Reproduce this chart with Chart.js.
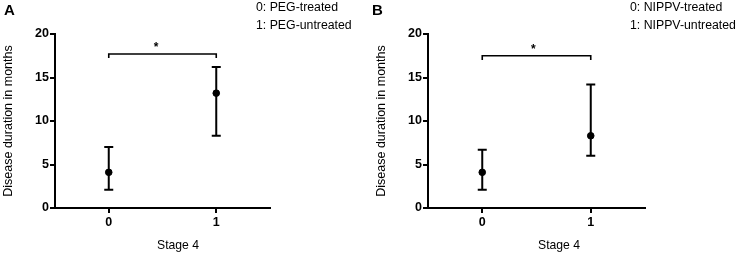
<!DOCTYPE html>
<html>
<head>
<meta charset="utf-8">
<script src="https://cdn.jsdelivr.net/npm/chart.js@4"></script>
<style>
  html, body { margin: 0; padding: 0; background: #fff; }
  body { width: 737px; height: 254px; position: relative; overflow: hidden; font-family: "Liberation Sans", Arial, sans-serif; color: #000; }
  .cv { position: absolute; top: 0; }
  .txt { position: absolute; white-space: nowrap; line-height: 1; }
  .letter { font-weight: bold; font-size: 15px; }
  .leg { font-size: 12.3px; }
  .xt { font-size: 12.2px; }
</style>
</head>
<body>
<div class="cv" style="left:0;width:368px;height:254px"><canvas id="cA"></canvas></div>
<div class="cv" style="left:368px;width:369px;height:254px"><canvas id="cB"></canvas></div>
<div class="txt letter" style="left:4px;top:2px">A</div>
<div class="txt letter" style="left:372px;top:2px">B</div>
<div class="txt leg" style="left:256px;top:1px">0: PEG-treated</div>
<div class="txt leg" style="left:256px;top:19px">1: PEG-untreated</div>
<div class="txt leg" style="left:630px;top:1px">0: NIPPV-treated</div>
<div class="txt leg" style="left:630px;top:19px">1: NIPPV-untreated</div>
<div class="txt xt" style="left:157px;top:239px">Stage 4</div>
<div class="txt xt" style="left:538px;top:239px">Stage 4</div>
<script>
// ---- Data ----
const categories = [0, 1];
const categoryLabels = ['0', '1'];
const yTicks = [0, 5, 10, 15, 20];

const meanA = [4.1, 13.2];
const lowA  = [2.1, 8.3];
const highA = [7.0, 16.2];

const meanB = [4.1, 8.3];
const lowB  = [2.1, 6.0];
const highB = [6.7, 14.2];

const bracketA = [17.25, 17.7];   // [end tip, bar]
const bracketB = [17.0, 17.5];
const starA = [0.44, 18.85];
const starB = [0.47, 18.65];

const yTitle = 'Disease duration in months';

// ---- Plugin: error bars and significance star ----
const errPlugin = {
  id: 'errbars',
  afterDatasetsDraw(chart, args, opts) {
    const {ctx, scales: {x, y}} = chart;
    ctx.save();
    ctx.strokeStyle = '#000';
    ctx.lineWidth = 2;
    opts.low.forEach((lo, i) => {
      const px = x.getPixelForValue(categories[i]);
      const pLo = y.getPixelForValue(lo);
      const pHi = y.getPixelForValue(opts.high[i]);
      ctx.beginPath();
      ctx.moveTo(px, pLo); ctx.lineTo(px, pHi);
      ctx.moveTo(px - 4.5, pLo); ctx.lineTo(px + 4.5, pLo);
      ctx.moveTo(px - 4.5, pHi); ctx.lineTo(px + 4.5, pHi);
      ctx.stroke();
    });
    ctx.fillStyle = '#000';
    ctx.font = 'bold 12px "Liberation Sans", Arial, sans-serif';
    ctx.textAlign = 'center';
    ctx.textBaseline = 'alphabetic';
    ctx.fillText('*', x.getPixelForValue(opts.star[0]), y.getPixelForValue(opts.star[1]) + 7);
    ctx.restore();
  }
};

function makeChart(id, mean, low, high, bracket, star, pad, yWidth) {
  const pts = categories.map((c, i) => ({x: c, y: mean[i]}));
  const br = [
    {x: categories[0], y: bracket[0]}, {x: categories[0], y: bracket[1]},
    {x: categories[1], y: bracket[1]}, {x: categories[1], y: bracket[0]}
  ];
  return new Chart(document.getElementById(id), {
    type: 'scatter',
    data: {
      datasets: [
        { data: pts, pointRadius: 3.3, pointBackgroundColor: '#000', pointBorderColor: '#000', showLine: false },
        { data: br, showLine: true, borderColor: '#000', borderWidth: 1.6, pointRadius: 0, fill: false }
      ]
    },
    options: {
      responsive: true,
      maintainAspectRatio: false,
      animation: false,
      events: [],
      layout: { padding: pad },
      plugins: {
        legend: { display: false },
        tooltip: { enabled: false },
        errbars: { low: low, high: high, star: star }
      },
      scales: {
        x: {
          type: 'linear', min: -0.5, max: 1.5,
          afterBuildTicks: s => { s.ticks = categories.map(v => ({value: v})); },
          afterFit: s => { s.height = 46; },
          ticks: {
            color: '#000', padding: 2,
            font: { family: '"Liberation Sans", Arial, sans-serif', size: 12.5, weight: 'bold' },
            callback: v => categoryLabels[categories.indexOf(v)]
          },
          grid: { display: true, drawOnChartArea: false, drawTicks: true, tickLength: 5, color: '#000', lineWidth: 2 },
          border: { display: true, color: '#000', width: 2 }
        },
        y: {
          min: 0, max: 20,
          afterBuildTicks: s => { s.ticks = yTicks.map(v => ({value: v})); },
          afterFit: s => { s.width = yWidth; },
          ticks: {
            color: '#000', padding: 1,
            font: { family: '"Liberation Sans", Arial, sans-serif', size: 12.5, weight: 'bold' }
          },
          grid: { display: true, drawOnChartArea: false, drawTicks: true, tickLength: 5, color: '#000', lineWidth: 2 },
          border: { display: true, color: '#000', width: 2 },
          title: {
            display: true, text: yTitle, color: '#000', padding: 0,
            font: { family: '"Liberation Sans", Arial, sans-serif', size: 12.5, weight: 'normal' }
          }
        }
      }
    },
    plugins: [errPlugin]
  });
}

makeChart('cA', meanA, lowA, highA, bracketA, starA, {left: 1, top: 34, right: 98, bottom: 0}, 54);
makeChart('cB', meanB, lowB, highB, bracketB, starB, {left: 6.5, top: 34, right: 92, bottom: 0}, 53.5);
</script>
</body>
</html>
